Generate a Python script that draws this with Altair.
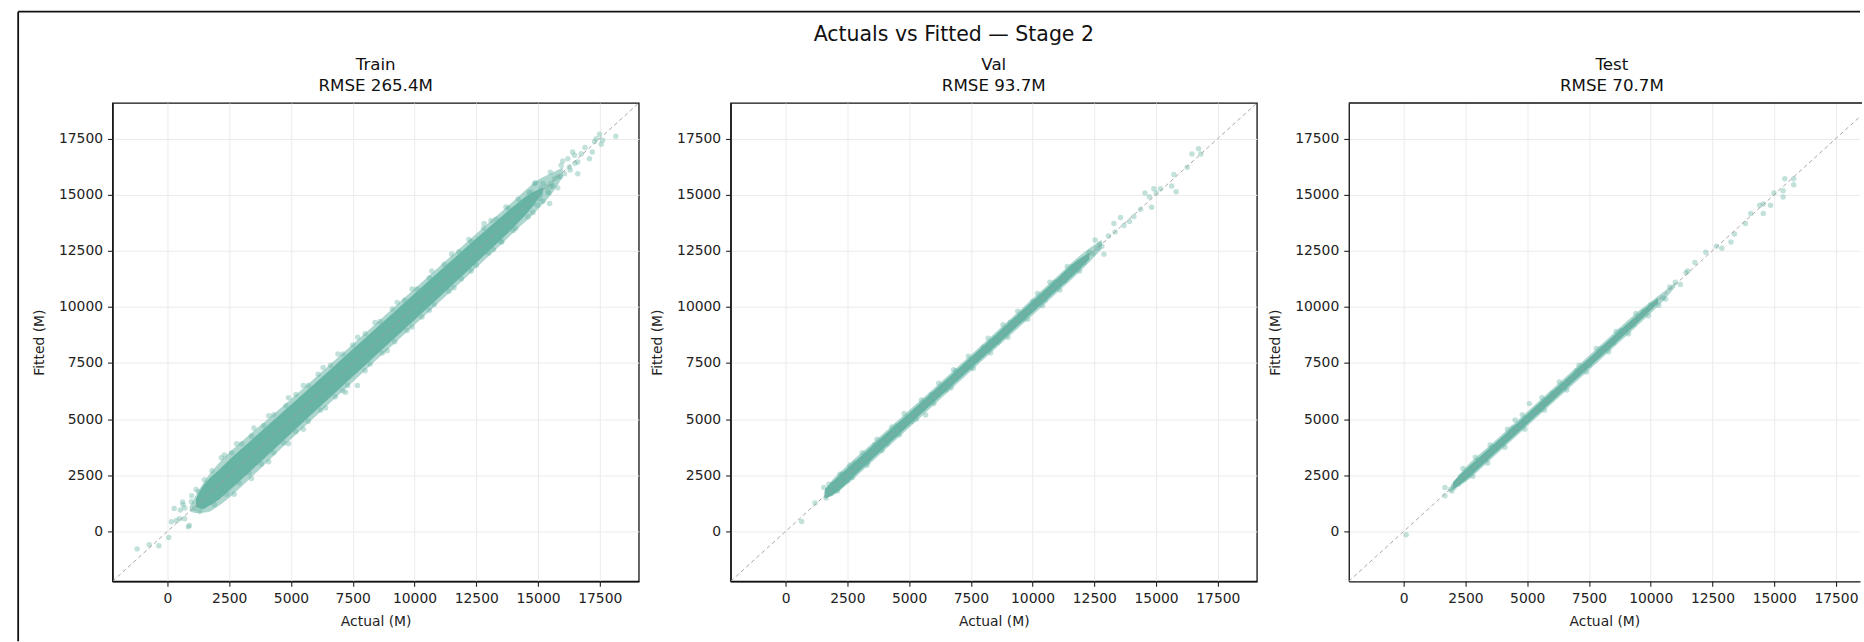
import altair as alt
import pandas as pd

# ---------------- data ----------------
LO, HI = -2225, 19080
TICKS = [0, 2500, 5000, 7500, 10000, 12500, 15000, 17500]
panel_names = ["Train", "Val", "Test"]
rmse_values = [265.4, 93.7, 70.7]
suptitle = "Actuals vs Fitted \u2014 Stage 2"

diag_vals = [LO, HI]

# dense cores (actual, lower fitted, upper fitted)
train_band_x = [1150, 1400, 1700, 2000, 2500, 3000, 4000, 5000, 6000, 7000, 8000, 9000, 10000, 11000, 12000, 13000, 14000, 14600, 15200]
train_band_lo = [1100, 1000, 1150, 1350, 1820, 2320, 3340, 4360, 5380, 6390, 7400, 8410, 9420, 10430, 11450, 12480, 13530, 14220, 15100]
train_band_hi = [1450, 1950, 2350, 2650, 3180, 3680, 4660, 5640, 6620, 7610, 8600, 9590, 10580, 11570, 12550, 13520, 14470, 14980, 15300]

# lighter outer envelope of the clouds
train_halo_x = [900, 1200, 1600, 2000, 3000, 4000, 5000, 6000, 7000, 8000, 9000, 10000, 11000, 12000, 13000, 14000, 15000, 15600, 16000]
train_halo_lo = [900, 820, 850, 1080, 2000, 3050, 4100, 5130, 6150, 7170, 8180, 9190, 10210, 11230, 12250, 13300, 14350, 15100, 15780]
train_halo_hi = [1100, 1700, 2400, 2950, 4000, 4950, 5900, 6870, 7850, 8830, 9820, 10810, 11790, 12770, 13750, 14700, 15650, 15980, 16220]

val_band_x = [1600, 2000, 3000, 4000, 5000, 6000, 7000, 8000, 9000, 10000, 11000, 11800, 12300]
val_band_lo = [1450, 1700, 2700, 3720, 4740, 5750, 6750, 7750, 8750, 9750, 10750, 11560, 12120]
val_band_hi = [1900, 2310, 3300, 4290, 5270, 6260, 7260, 8260, 9260, 10260, 11260, 12060, 12420]

val_halo_x = [1550, 1800, 2500, 3500, 5000, 6500, 8000, 9500, 11000, 12000, 12800]
val_halo_lo = [1500, 1550, 2100, 3100, 4620, 6130, 7640, 9140, 10640, 11660, 12580]
val_halo_hi = [1750, 2150, 2930, 3910, 5390, 6870, 8360, 9860, 11360, 12360, 12980]

test_band_x = [2000, 2500, 3000, 4000, 5000, 6000, 7000, 8000, 9000, 9800, 10300]
test_band_lo = [1880, 2270, 2770, 3780, 4780, 5790, 6800, 7800, 8810, 9640, 10170]
test_band_hi = [2200, 2760, 3250, 4230, 5230, 6220, 7210, 8210, 9200, 9960, 10410]

test_halo_x = [1900, 2500, 3500, 5000, 6500, 8000, 9500, 10500, 11000]
test_halo_lo = [1800, 2200, 3180, 4680, 6180, 7690, 9200, 10260, 10880]
test_halo_hi = [2050, 2850, 3840, 5330, 6820, 8320, 9800, 10650, 11080]

# individual (sparser) points
train_pts_a = [-1230, -740, -350, 50, 160, 360, 490, 520, 630, 690, 700, 840, 610, 270, 970, 1100, 1310, 1440,
               1250, 980, 1160, 1340, 1610, 890, 2180,
               1500, 1800, 2600, 3000, 3400, 3900, 4300, 4800, 5200, 5700, 6100, 6600, 7100, 7500, 8000, 8600,
               9100, 9600, 10100, 10600, 11200, 11800, 12300, 12800, 13300, 13800, 14200,
               1900, 2400, 2900, 3300, 3800, 4300, 4700, 5200, 5700, 6200, 6800, 7300, 7690, 7210, 8200, 8700,
               9200, 9700, 10300, 10800, 11400, 11900, 12500, 13000, 13500, 14000, 14600,
               14720, 14860, 15060, 15130, 15330, 15400, 15470, 15530, 15670, 15800, 15940, 16070, 16210, 16270,
               16480, 16610, 16610, 16750, 17080, 17290, 17360, 17490, 17560, 17620, 18150, 14900, 14630, 15530,
               15440, 14360, 14990, 13540, 12820, 14500, 14800, 15100, 15200, 15600, 15900, 16300, 16500,
               2300, 2800, 3500, 4100, 4900, 5500, 6300, 6900, 7700, 8400, 9300, 9900, 10700, 11500, 12200, 13100,
               13700, 2700, 3400, 4100, 4900, 5500, 6400, 7100, 8000, 8900, 9900, 10600, 11600, 12300, 13200,
               14100, 14800, 15200, 15800, 16000, 16400, 16900, 17200, 15500]
train_pts_f = [-780, -600, -640, -270, 430, 480, 560, 950, 1190, 560, 1040, 210, 1310, 1020, 1320, 1020, 880, 1100,
               1770, 1590, 1860, 1220, 1590, 260, 3280,
               2300, 2700, 3500, 3900, 4250, 4700, 5200, 5600, 6100, 6500, 7000, 7400, 7900, 8300, 8800, 9350,
               9900, 10300, 10800, 11300, 11900, 12450, 12900, 13500, 13900, 14400, 14800,
               1200, 1650, 2150, 2600, 3000, 3500, 3950, 4450, 4900, 5400, 6000, 6500, 6500, 6200, 7450, 7950,
               8450, 8950, 9550, 10100, 10700, 11250, 11850, 12400, 12900, 13400, 14000,
               15120, 15490, 14820, 15270, 15340, 15120, 14600, 15490, 15710, 15790, 16310, 15930, 16600, 16230,
               16750, 16450, 15930, 16820, 16600, 17370, 17490, 17690, 17240, 17420, 17600, 15530, 15070, 15350,
               15070, 14530, 14530, 12890, 13710, 14700, 14600, 15000, 15500, 15400, 15800, 16100, 16400,
               3400, 3900, 4600, 5150, 5950, 6500, 7300, 7900, 8650, 9300, 10200, 10800, 11600, 12350, 13000, 13850,
               14450, 1650, 2350, 3100, 3900, 4550, 5500, 6250, 7150, 8050, 9100, 9850, 10850, 11600, 12550,
               13500, 14200, 14700, 15300, 16500, 16900, 17100, 16900, 16000]

val_pts_a = [650, 1190, 1550, 1640, 1820, 2000, 1700, 1900, 2300, 2500, 2800, 3300, 3600, 4100, 4500, 5100, 5670,
             5900, 6500, 6900, 7500, 8000, 8600, 9100, 9600, 10000, 10500, 10900, 11300, 11600, 12080, 12290,
             12440, 12530, 12620, 12710, 12800, 12890, 13070, 13290, 13340, 13560, 13700, 13920, 14100, 14370,
             14550, 14730, 14820, 14910, 15000, 15180, 15630, 15720, 15810, 16260, 16450, 16720, 16810,
             1750, 2200, 2600, 3100, 3700, 4300, 4800, 5500, 6200, 6800, 7400, 8200, 8800, 9400, 10200, 10700,
             11400, 2100, 2700, 3300, 3900, 4600, 5300, 6000, 6700, 7600, 8300, 9000, 9800, 10400, 11100, 11900]
val_pts_f = [440, 1260, 1950, 1490, 1680, 1860, 1800, 2100, 2550, 2250, 3050, 3080, 3850, 3900, 4700, 4900, 5180,
             6100, 6300, 7150, 7300, 8200, 8420, 9300, 9450, 10250, 10300, 11100, 11150, 11800, 11980, 12430,
             12380, 12980, 12610, 12800, 12700, 12340, 13160, 13710, 13340, 13980, 13620, 13800, 14020, 14350,
             15070, 14890, 14440, 15260, 15070, 15260, 15380, 15900, 15130, 16220, 16810, 17040, 16810,
             2100, 2550, 2950, 3500, 4100, 4650, 5250, 5850, 6600, 7200, 7800, 8600, 9200, 9800, 10600, 11100,
             11800, 1800, 2400, 2950, 3600, 4300, 5000, 5700, 6400, 7250, 7950, 8650, 9450, 10050, 10750, 11600]

test_pts_a = [100, 1670, 1670, 1890, 2040, 1950, 2200, 2300, 2600, 3000, 3300, 3600, 4000, 4400, 4510, 5090, 5500,
              6000, 6500, 7000, 7500, 8000, 8500, 8800, 9300, 9700, 10000, 10330, 10500, 10770, 11000, 11200,
              11430, 11500, 11790, 12230, 12660, 12880, 13250, 13390, 13830, 14050, 14410, 14560, 14850, 15360,
              15360, 15430, 15790, 15790, 14990, 14560,
              2400, 2900, 3500, 4200, 4800, 5600, 6300, 7100, 7800, 8600, 9400, 2800, 3400, 4100, 4900, 5700,
              6600, 7400, 8300, 9100, 9900, 10600]
test_pts_f = [-150, 1950, 1590, 1860, 1950, 1800, 2100, 2450, 2500, 3150, 3200, 3750, 3900, 4600, 4960, 5690, 5400,
              6150, 6400, 7150, 7400, 8150, 8400, 8950, 9200, 9800, 10100, 10060, 10400, 10880, 11100, 11000,
              11520, 11600, 11980, 12430, 12700, 12610, 12890, 13250, 13710, 14160, 14530, 14160, 14530, 14890,
              15170, 15710, 15710, 15440, 15070, 14580,
              2800, 3300, 3850, 4550, 5200, 5950, 6650, 7400, 8150, 8900, 9700, 2450, 3050, 3750, 4550, 5400,
              6300, 7100, 8000, 8800, 9600, 10350]

bands = [(train_band_x, train_band_lo, train_band_hi),
         (val_band_x, val_band_lo, val_band_hi),
         (test_band_x, test_band_lo, test_band_hi)]
halos = [(train_halo_x, train_halo_lo, train_halo_hi),
         (val_halo_x, val_halo_lo, val_halo_hi),
         (test_halo_x, test_halo_lo, test_halo_hi)]
points = [(train_pts_a, train_pts_f), (val_pts_a, val_pts_f), (test_pts_a, test_pts_f)]

# ---------------- styling ----------------
FONT = "DejaVu Sans"
TEAL = "#67b4a5"
W = 527
W_LAST = 512
H = 479
SPACING = 92
PX_PER_UNIT = W / (HI - LO)


def x_enc(field, xmax):
    return alt.X(f"{field}:Q",
                 scale=alt.Scale(domain=[LO, xmax], nice=False, zero=False),
                 axis=alt.Axis(values=TICKS, format="d", title="Actual (M)", titlePadding=9))


def y_enc(field):
    return alt.Y(f"{field}:Q",
                 scale=alt.Scale(domain=[LO, HI], nice=False, zero=False),
                 axis=alt.Axis(values=TICKS, format="d", title="Fitted (M)", titlePadding=12))


def make_panel(i):
    last = i == 2
    width = W_LAST if last else W
    xmax = LO + width / PX_PER_UNIT
    bx, blo, bhi = bands[i]
    hx, hlo, hhi = halos[i]
    pa, pf = points[i]

    band_df = pd.DataFrame({"a": bx, "f": blo, "f2": bhi})
    halo_df = pd.DataFrame({"a": hx, "f": hlo, "f2": hhi})
    pts_df = pd.DataFrame({"a": pa, "f": pf})
    diag_df = pd.DataFrame({"a": diag_vals, "f": diag_vals})
    ttl_df = pd.DataFrame({"t": [panel_names[i]], "s": [f"RMSE {rmse_values[i]}M"]})

    halo = alt.Chart(halo_df).mark_area(color=TEAL, opacity=0.55, clip=True, interpolate="monotone").encode(
        x=x_enc("a", xmax), y=y_enc("f"), y2="f2:Q")
    band = alt.Chart(band_df).mark_area(color=TEAL, opacity=1, clip=True, interpolate="monotone").encode(
        x=x_enc("a", xmax), y=y_enc("f"), y2="f2:Q")
    pts = alt.Chart(pts_df).mark_circle(color=TEAL, opacity=0.4, size=30, clip=True).encode(
        x=x_enc("a", xmax), y=y_enc("f"))
    diag = alt.Chart(diag_df).mark_line(color="#9e9e9e", strokeDash=[4, 3], strokeWidth=1,
                                        opacity=0.9, clip=True).encode(
        x=x_enc("a", xmax), y=y_enc("f"))
    t1 = alt.Chart(ttl_df).mark_text(font=FONT, fontSize=16.7, color="#111", baseline="middle",
                                     align="center").encode(
        text="t:N", x=alt.value(W / 2), y=alt.value(-38))
    t2 = alt.Chart(ttl_df).mark_text(font=FONT, fontSize=16.7, color="#111", baseline="middle",
                                     align="center").encode(
        text="s:N", x=alt.value(W / 2), y=alt.value(-17.5))
    layers = [halo, pts, band, diag, t1, t2]

    if i == 0:
        frame_df = pd.DataFrame({"k": [0]})
        left_rule = alt.Chart(frame_df).mark_rule(color="#111", strokeWidth=1.8).encode(
            x=alt.value(-94.5), y=alt.value(-91.5), y2=alt.value(539))
        top_rule = alt.Chart(frame_df).mark_rule(color="#111", strokeWidth=1.8).encode(
            x=alt.value(-94.5), x2=alt.value(1750), y=alt.value(-91.5))
        layers += [left_rule, top_rule]
    if i == 1:
        sup_df = pd.DataFrame({"t": [suptitle]})
        sup = alt.Chart(sup_df).mark_text(font=FONT, fontSize=20.5, color="#111", baseline="middle",
                                          align="center").encode(
            text="t:N", x=alt.value(223.5), y=alt.value(-68))
        layers.append(sup)
    if last:
        top_df = pd.DataFrame({"k": [0]})
        top_border = alt.Chart(top_df).mark_rule(color="#111", strokeWidth=1.3).encode(
            x=alt.value(0), x2=alt.value(width + 2), y=alt.value(0))
        layers.append(top_border)

    layer = alt.layer(*layers).properties(width=width, height=H)
    if last:
        layer = layer.properties(view=alt.ViewBackground(stroke="transparent"))
    return layer


chart = alt.hconcat(*[make_panel(i) for i in range(3)], spacing=SPACING, bounds="flush").properties(
    padding={"left": 15.7, "top": 8.7, "right": 0, "bottom": 0},
    background="white",
).configure_view(
    stroke="#111", strokeWidth=1.3
).configure_axis(
    labelFont=FONT, labelFontSize=13.9, labelColor="#222",
    titleFont=FONT, titleFontSize=13.9, titleFontWeight="normal", titleColor="#222",
    tickColor="#222", tickSize=5, tickWidth=1.1,
    domainColor="#111", domainWidth=1.3,
    gridColor="#ebebeb", gridWidth=1,
    labelPadding=5, labelFlush=False, labelOverlap=False,
)

chart.save("out.html", embed_options={"renderer": "svg", "actions": False})
